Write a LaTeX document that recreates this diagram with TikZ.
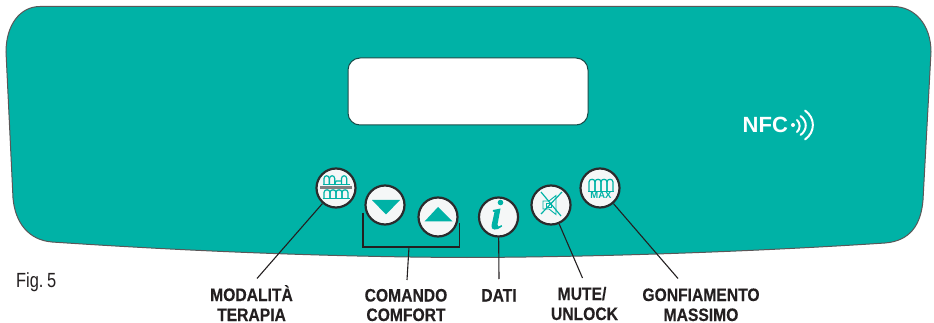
\documentclass[tikz,border=0pt]{standalone}
\usepackage{fontspec}
\setmainfont{Liberation Sans}
\newfontfamily\narrowbold[FakeStretch=0.87,FakeBold=0.3]{Liberation Sans Bold}
\newfontfamily\narrowreg[FakeStretch=0.8]{Liberation Sans}
\definecolor{panel}{HTML}{00B2A6}
\definecolor{ink}{HTML}{231F20}
\definecolor{rim}{HTML}{2B2B2D}
\definecolor{face}{HTML}{F5F7F7}
\tikzset{
  x=1pt,y=-1pt,
  panelshape/.style={fill=panel,draw=ink!75,line width=1pt},
  lcdshape/.style={fill=white,draw=ink!70!panel,line width=1pt,rounded corners=12pt},
  btn/.style={circle,fill=face,draw=rim,line width=2.2pt,minimum size=39pt,inner sep=0pt},
  leader/.style={draw=ink,line width=1.1pt},
  lab/.style={anchor=base,font=\narrowbold\fontsize{18}{20}\selectfont,text=ink,inner sep=0pt},
  iconline/.style={draw=panel,line width=1.2pt},
  iconthin/.style={draw=panel,line width=0.9pt},
  iconfill/.style={fill=panel,draw=none},
  nfcwave/.style={draw=white,line width=2pt,line cap=round},
}
% one arch: left x, base y, width, leg height
\newcommand{\archone}[4]{%
  \draw[iconline] (#1,#2) -- ({#1},{#2-#4}) .. controls +(0,-3.6) and +(0,-3.6) .. ({#1+#3},{#2-#4}) -- ({#1+#3},#2);
}
\begin{document}
\begin{tikzpicture}
\useasboundingbox (0,0) rectangle (934,323);
% panel
\draw[panelshape] (40,6.5) -- (893,6.5)
  .. controls (915,6.5) and (931,25) .. (931,52)
  -- (923,200)
  .. controls (921,225) and (910,241) .. (885,243)
  .. controls (780,250) and (620,257) .. (467,257.5)
  .. controls (320,257) and (170,250) .. (52,242)
  .. controls (28,240) and (15,222) .. (13,198)
  -- (6,52)
  .. controls (6,25) and (20,6.5) .. (40,6.5) -- cycle;
% display
\draw[lcdshape] (348,58) rectangle (588,125);
% NFC
\node[anchor=base west,inner sep=0pt,text=white,font=\bfseries\fontsize{22}{22}\selectfont] (nfc) at (742.5,133) {NFC};
\fill[white] (793,125) circle (2);
\draw[nfcwave] (797,120) .. controls (800.5,123) and (800.5,129) .. (797,132);
\draw[nfcwave] (800.5,116) .. controls (807.5,121) and (807.5,130) .. (800.5,135);
\draw[nfcwave] (805,110.5) .. controls (815.5,118) and (815.5,132) .. (805,139.5);
% buttons
\node[btn] (mode) at (336,188) {};
\node[btn] (down) at (385,205) {};
\node[btn] (up) at (438,217) {};
\node[btn] (info) at (498.5,217) {};
\node[btn] (mute) at (551,205) {};
\node[btn] (maxb) at (600,188) {};
% mode icon
\archone{324}{184.5}{5.2}{6}
\archone{329.5}{184.5}{5.2}{6}
\draw[iconline] (334.7,184.5) -- (336,181) -- (341.5,181) ;
\archone{341.5}{184.5}{5.2}{6}
\fill[gray] (320,186) rectangle (352,189);
\foreach \k in {0,1,2,3}{\archone{\k*6+324}{198.5}{6}{6}}
\draw[iconline] (322.5,198.8) -- (349.5,198.8);
\draw[iconline] (322.5,184.8) -- (349.5,184.8);
% arrows
\path[iconfill] (372,200) -- (400,200) -- (386,214.5) -- cycle;
\path[iconfill] (424.5,221.5) -- (452.5,221.5) -- (438,207) -- cycle;
% info
\fill[panel] (500.5,202.5) circle (2.8);
\path[iconfill] (493,210) -- (500.5,208.5) -- (497.5,224.5) .. controls (497,227) and (499,227) .. (501.5,225) -- (502,226.5) .. controls (497,231) and (490.5,230.5) .. (491.5,225.5) -- (494.5,212) -- (492.8,211.5) -- cycle;
% mute icon
\draw[iconthin] (543,201) -- (549,201) -- (556,195.5) -- (556,214.5) -- (549,209) -- (543,209) -- cycle;
\draw[iconthin] (546,203) rectangle (551,207.5);
\draw[iconline] (541,192) -- (561,216);
\draw[iconline] (562,192) -- (541,214);
% max icon
\foreach \k in {0,1,2,3}{\archone{\k*6+589}{191}{6}{9}}
\draw[iconline] (588,191.3) -- (614,191.3);
\node[anchor=base,inner sep=0pt,text=panel,font=\bfseries\fontsize{9.5}{10}\selectfont] (maxt) at (601,199) {MAX};
% labels
\node[lab] (l1a) at (251.5,301) {MODALITÀ};
\node[lab] (l1b) at (251.5,321) {TERAPIA};
\node[lab] (l2a) at (406,301.5) {COMANDO};
\node[lab] (l2b) at (406,321) {COMFORT};
\node[lab] (l3) at (499,301.5) {DATI};
\node[lab] (l4a) at (582,300) {MUTE/};
\node[lab] (l4b) at (584.5,320) {UNLOCK};
\node[lab] (l5a) at (701,301) {GONFIAMENTO};
\node[lab] (l5b) at (701,321) {MASSIMO};
\node[anchor=base west,inner sep=0pt,text=ink,font=\narrowreg\fontsize{20.5}{22}\selectfont] (fig) at (16,287) {Fig.\kern-1pt\ 5};
% leaders
\coordinate (e1) at (257,278.5);
\coordinate (e2) at (407,280);
\coordinate (e3) at (499,279);
\coordinate (e4) at (582.5,278);
\coordinate (e5) at (678,278.5);
\coordinate (bl) at (363,213);
\coordinate (blb) at (363,247);
\coordinate (brb) at (459.5,247);
\coordinate (br) at (459.5,223);
\coordinate (bm) at (409,247);
\draw[leader] (mode) -- (e1);
\draw[leader] (bl) -- (blb) -- (brb) -- (br);
\draw[leader] (bm) -- (e2);
\draw[leader] (info) -- (e3);
\draw[leader] (mute) -- (e4);
\draw[leader] (maxb) -- (e5);
\end{tikzpicture}
\end{document}
